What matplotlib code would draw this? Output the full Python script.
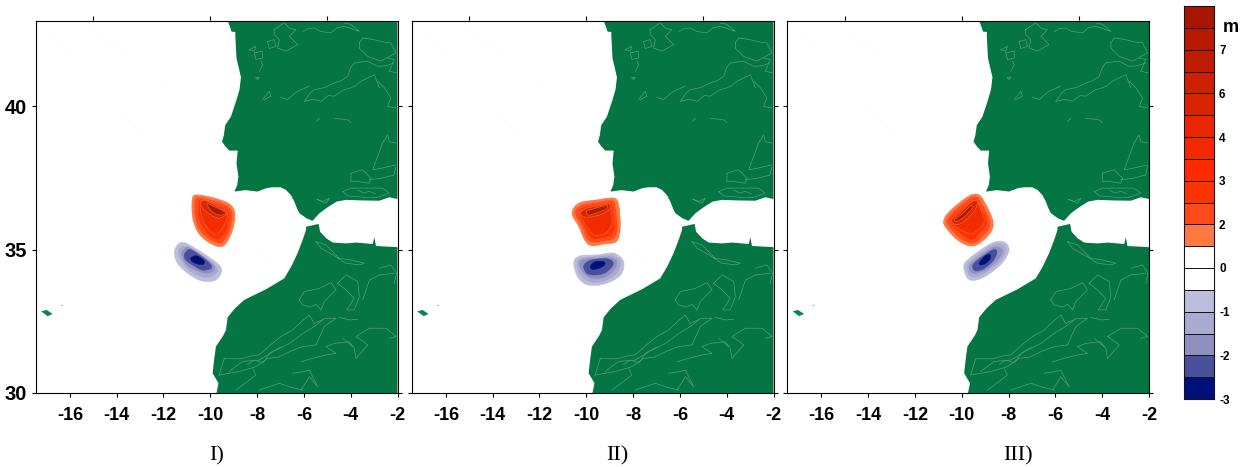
import matplotlib

matplotlib.use('Agg')

import numpy as np
import matplotlib.pyplot as plt
from matplotlib.colors import ListedColormap
from matplotlib.patches import PathPatch
from matplotlib.path import Path

plt.rcParams['axes.unicode_minus'] = False

# lon/lat ranges and ticks
lon_ticks = [-16, -14, -12, -10, -8, -6, -4, -2]
lon_top_ticks = [-15, -10, -5]
lat_ticks = [30, 35, 40]
panel_names = ['I)', 'II)', 'III)']

# colour scale, bottom cell first
scale_colors = ['#00107a', '#4a4f9c', '#8f90c0', '#a9aacf', '#bdbedb', '#ffffff', '#ffffff',
                '#ff7a40', '#ff4a1c', '#ff3300', '#ff2a00', '#f22800', '#ea2600', '#d82400',
                '#cc2000', '#c01c00', '#b81a00', '#a81500']
scale_labels = ['-3', '-2', '-1', '0', '2', '3', '4', '6', '7']
scale_label_cells = [0, 2, 4, 6, 8, 10, 12, 14, 16]

iberia = [(-9.30, 43.1), (-9.09, 42.61), (-8.93, 42.6), (-8.93, 42.44), (-8.88, 41.68), (-8.69, 41.02),
          (-8.75, 40.6), (-8.88, 40.23), (-9.12, 39.64), (-9.36, 39.35), (-9.42, 39.0), (-9.5, 38.77),
          (-9.35, 38.6), (-9.19, 38.46), (-8.83, 38.46), (-8.88, 38.02), (-8.8, 37.55), (-8.85, 37.25),
          (-8.97, 37.03), (-8.5, 37.08), (-7.98, 37.03), (-7.6, 37.15), (-7.34, 37.18), (-7.0, 37.18),
          (-6.77, 37.09), (-6.55, 36.9), (-6.41, 36.68), (-6.3, 36.45), (-6.2, 36.28), (-5.9, 36.1),
          (-5.63, 36.01), (-5.34, 36.27), (-4.99, 36.48), (-4.6, 36.68), (-4.2, 36.74), (-3.5, 36.72),
          (-2.78, 36.71), (-2.35, 36.83), (-2.0, 36.77), (-2.0, 43.1)]
africa = [(-5.91, 35.80), (-5.37, 35.9), (-5.31, 35.63), (-5.05, 35.4), (-4.77, 35.25), (-4.2, 35.22),
          (-3.77, 35.25), (-3.06, 35.2), (-2.99, 35.43), (-2.92, 35.13), (-2.0, 35.09), (-2.0, 29.9),
          (-9.76, 29.9), (-9.65, 30.34), (-9.9, 30.69), (-9.83, 31.2), (-9.76, 31.62), (-9.45, 32.0),
          (-9.33, 32.2), (-9.26, 32.64), (-8.95, 32.95), (-8.55, 33.25), (-7.62, 33.62), (-6.84, 34.0),
          (-6.55, 34.4), (-6.27, 34.88), (-6.05, 35.35), (-5.91, 35.69)]
madeira = [(-17.23, 32.85), (-17.0, 32.9), (-16.74, 32.76), (-16.95, 32.68)]
porto_santo = [(-16.38, 33.06), (-16.32, 33.08), (-16.32, 33.04)]
sea_traces = [[(-16.88, 42.55), (-15.6, 41.4), (-14.1, 40.1), (-12.75, 38.83)],
              [(-15.2, 42.7), (-13.6, 41.9), (-11.8, 40.6)],
              [(-8.2, 35.2), (-7.3, 34.5)]]

relief = [
    [(-6.05, 42.62), (-5.8, 42.72), (-5.56, 42.74), (-5.3, 42.62), (-4.84, 42.57), (-4.6, 42.74), (-4.27, 42.8), (-3.63, 42.62), (-3.98, 42.86), (-4.27, 42.92)],
    [(-7.27, 42.68), (-6.84, 42.92), (-6.6, 42.72), (-6.34, 42.68), (-6.62, 42.45), (-6.27, 42.16), (-6.77, 41.93), (-7.12, 42.04), (-7.05, 42.33), (-7.27, 42.51), (-7.27, 42.68)],
    [(-7.55, 42.27), (-7.27, 42.33), (-7.19, 42.1), (-7.48, 42.02), (-7.55, 42.27)],
    [(-8.33, 41.98), (-8.05, 42.1), (-8.12, 41.93), (-8.33, 41.98)],
    [(-8.12, 41.87), (-7.76, 41.93), (-7.76, 41.69), (-8.05, 41.64), (-8.12, 41.87)],
    [(-7.9, 41.23), (-7.76, 41.46), (-7.83, 41.58)],
    [(-8.05, 41.0), (-7.9, 41.02), (-7.98, 40.94), (-8.05, 41.0)],
    [(-7.76, 40.24), (-7.48, 40.53), (-7.41, 40.36), (-7.69, 40.24)],
    [(-6.98, 40.32), (-6.69, 40.24), (-6.45, 40.42), (-6.27, 40.53), (-5.77, 40.71)],
    [(-5.98, 40.18), (-5.75, 40.45), (-5.56, 40.59), (-5.1, 40.66), (-4.7, 40.82), (-4.4, 40.9), (-4.13, 41.05), (-4.0, 41.35), (-3.85, 41.52), (-3.28, 41.58), (-2.85, 41.4), (-2.5, 41.42), (-2.14, 41.52)],
    [(-5.98, 40.18), (-5.6, 40.25), (-5.27, 40.18), (-4.95, 40.38), (-4.7, 40.36), (-4.3, 40.58), (-3.99, 40.65), (-3.8, 40.72), (-3.56, 40.88), (-2.99, 41.11), (-2.78, 40.65)],
    [(-3.63, 42.22), (-3.49, 42.39), (-2.99, 42.33), (-2.6, 42.25), (-2.28, 42.22), (-2.07, 41.87), (-2.71, 41.58), (-3.28, 41.75), (-3.63, 42.04), (-3.63, 42.22)],
    [(-2.42, 41.69), (-2.14, 41.64), (-2.35, 41.23), (-2.04, 41.17)],
    [(-2.85, 40.88), (-2.56, 40.65), (-2.28, 40.3), (-2.42, 40.0), (-2.07, 39.95)],
    [(-4.7, 39.59), (-4.13, 39.53), (-3.99, 39.44)],
    [(-5.48, 39.47), (-5.34, 39.59)],
    [(-2.64, 38.72), (-2.42, 39.01), (-2.35, 38.77), (-2.07, 38.72)],
    [(-2.64, 38.72), (-3.06, 37.79), (-2.71, 37.84), (-2.07, 37.96)],
    [(-3.99, 37.67), (-3.49, 37.79), (-3.13, 37.49), (-3.21, 37.32), (-3.7, 37.38), (-3.99, 37.38), (-3.99, 37.67)],
    [(-4.34, 37.03), (-3.99, 37.15), (-3.28, 37.15), (-2.64, 37.15), (-2.35, 36.97), (-2.85, 36.83), (-3.42, 36.83), (-4.13, 36.88), (-4.34, 37.03)],
    [(-3.7, 37.08), (-3.45, 36.98), (-3.2, 37.04), (-2.95, 36.95)],
    [(-3.21, 37.44), (-2.71, 37.49), (-2.14, 37.61), (-2.07, 37.9)],
    [(-5.44, 36.76), (-5.2, 36.68), (-4.91, 36.8), (-5.06, 36.62), (-5.44, 36.76)],
    [(-5.48, 35.28), (-5.06, 35.17), (-4.49, 34.7), (-3.99, 34.64), (-3.42, 34.53), (-3.63, 34.47), (-4.2, 34.53), (-4.77, 34.82), (-5.27, 35.05), (-5.48, 35.28)],
    [(-6.2, 33.25), (-5.98, 33.54), (-5.34, 33.65), (-4.84, 33.85), (-4.63, 33.6), (-5.13, 33.19), (-5.27, 32.9), (-5.48, 33.1), (-5.7, 33.0), (-6.05, 33.07), (-6.2, 33.25)],
    [(-4.56, 33.83), (-4.2, 34.12), (-3.7, 33.89), (-3.63, 33.36), (-3.85, 32.9), (-4.17, 32.9), (-3.85, 33.3), (-4.2, 33.6), (-4.56, 33.83)],
    [(-3.49, 33.25), (-3.2, 33.94), (-2.78, 34.12), (-2.14, 34.18)],
    [(-2.78, 34.35), (-2.28, 34.47), (-2.04, 34.18), (-2.14, 33.83)],
    [(-9.62, 30.63), (-9.4, 31.21), (-8.62, 31.21), (-8.2, 31.3), (-7.91, 31.33), (-7.4, 31.7), (-6.98, 31.97), (-6.48, 32.2), (-6.1, 32.5), (-5.77, 32.72), (-5.56, 32.43), (-5.1, 32.6), (-4.63, 32.61), (-5.13, 32.32), (-5.48, 31.68), (-6.05, 31.62), (-6.62, 31.44), (-7.1, 31.25), (-7.55, 31.21), (-8.05, 30.92), (-8.76, 30.75), (-9.62, 30.63)],
    [(-4.49, 32.64), (-4.06, 32.55), (-3.7, 32.57)],
    [(-9.19, 30.75), (-8.62, 31.1), (-7.91, 31.15), (-7.2, 31.5), (-6.62, 31.73), (-6.05, 32.08), (-5.6, 32.3), (-5.2, 32.55)],
    [(-8.4, 31.0), (-8.1, 31.15), (-7.75, 31.05), (-7.45, 31.4), (-7.0, 31.6)],
    [(-5.06, 31.62), (-4.7, 31.73), (-4.06, 31.79), (-3.85, 31.56), (-3.77, 31.2)],
    [(-4.34, 31.91), (-3.92, 31.62)],
    [(-3.77, 31.97), (-3.2, 32.26), (-2.49, 32.26), (-2.06, 31.97), (-2.35, 31.91)],
    [(-3.77, 31.97), (-3.27, 31.68), (-3.77, 31.21)],
    [(-6.12, 31.09), (-5.63, 31.21), (-5.06, 31.33), (-4.63, 31.38), (-5.06, 31.62)],
    [(-6.48, 30.69), (-5.98, 30.75), (-5.77, 30.8), (-5.41, 30.22), (-5.77, 30.57), (-6.12, 30.1)],
    [(-8.9, 30.1), (-8.05, 30.63), (-8.19, 30.86)],
    [(-7.91, 30.1), (-7.05, 30.34), (-6.62, 30.22), (-6.05, 30.1)],
]

# wave height patches, outermost contour first
red_colors = ['#ff7a40', '#ff4a1c', '#ff3300', '#f02c00', '#dd2600', '#a81d00']
blue_colors = ['#bdbedb', '#a9aacf', '#8f90c0', '#4a4f9c', '#00107a']

red_1 = [
    [(-10.76, 36.8), (-10.54, 36.91), (-9.83, 36.8), (-9.19, 36.6), (-8.95, 36.27), (-9.05, 35.69), (-9.33, 35.22), (-9.62, 35.11), (-10.11, 35.28), (-10.54, 35.63), (-10.76, 36.16)],
    [(-10.66, 36.74), (-10.47, 36.83), (-9.83, 36.71), (-9.26, 36.53), (-9.05, 36.25), (-9.15, 35.71), (-9.4, 35.32), (-9.62, 35.22), (-10.04, 35.36), (-10.47, 35.71), (-10.66, 36.18)],
    [(-10.54, 36.68), (-10.37, 36.77), (-9.83, 36.64), (-9.33, 36.47), (-9.16, 36.21), (-9.26, 35.75), (-9.52, 35.4), (-9.69, 35.34), (-10.04, 35.46), (-10.37, 35.81), (-10.54, 36.21)],
    [(-10.43, 36.66), (-10.26, 36.74), (-9.83, 36.59), (-9.43, 36.45), (-9.26, 36.21), (-9.4, 35.86), (-9.69, 35.57), (-9.97, 35.63), (-10.26, 35.92), (-10.4, 36.27)],
    [(-10.4, 36.68), (-10.19, 36.71), (-9.83, 36.56), (-9.47, 36.41), (-9.29, 36.25), (-9.62, 36.1), (-9.97, 36.21), (-10.29, 36.41)],
    [(-10.14, 36.6), (-9.9, 36.53), (-9.54, 36.39), (-9.33, 36.27), (-9.62, 36.21), (-9.97, 36.36)],
]
blue_1 = [
    [(-11.54, 34.9), (-11.4, 35.17), (-11.11, 35.25), (-10.4, 34.93), (-9.62, 34.47), (-9.54, 34.18), (-9.83, 33.92), (-10.4, 33.92), (-10.97, 34.18), (-11.4, 34.53)],
    [(-11.37, 34.93), (-11.11, 35.13), (-10.47, 34.87), (-9.8, 34.47), (-9.71, 34.24), (-9.97, 34.06), (-10.47, 34.08), (-10.94, 34.32), (-11.25, 34.64)],
    [(-11.22, 34.88), (-10.97, 35.09), (-10.47, 34.85), (-9.9, 34.5), (-9.83, 34.29), (-10.14, 34.18), (-10.61, 34.29), (-11.04, 34.5)],
    [(-11.11, 34.82), (-10.9, 35.01), (-10.47, 34.82), (-10.0, 34.5), (-9.97, 34.35), (-10.33, 34.29), (-10.76, 34.47), (-11.04, 34.64)],
    [(-10.83, 34.7), (-10.61, 34.79), (-10.29, 34.64), (-10.29, 34.5), (-10.54, 34.5), (-10.75, 34.58)],
]
red_2 = [
    [(-10.61, 36.27), (-10.32, 36.62), (-9.54, 36.74), (-8.82, 36.8), (-8.62, 36.56), (-8.55, 35.81), (-8.7, 35.3), (-9.25, 35.2), (-9.75, 35.14), (-10.04, 35.3), (-10.32, 35.81)],
    [(-10.49, 36.27), (-10.25, 36.54), (-9.54, 36.66), (-8.9, 36.71), (-8.75, 36.53), (-8.67, 35.81), (-8.8, 35.4), (-9.25, 35.3), (-9.71, 35.25), (-9.97, 35.38), (-10.22, 35.84)],
    [(-10.36, 36.25), (-10.18, 36.47), (-9.54, 36.59), (-8.97, 36.64), (-8.85, 36.48), (-8.78, 35.83), (-8.93, 35.48), (-9.28, 35.4), (-9.68, 35.34), (-9.89, 35.47), (-10.14, 35.86)],
    [(-10.28, 36.25), (-10.11, 36.41), (-9.54, 36.53), (-9.04, 36.6), (-8.94, 36.39), (-8.9, 35.92), (-9.14, 35.6), (-9.61, 35.5), (-9.89, 35.68), (-10.11, 35.98)],
    [(-10.25, 36.29), (-9.97, 36.45), (-9.39, 36.54), (-9.04, 36.6), (-8.97, 36.45), (-9.32, 36.25), (-9.75, 36.15), (-10.11, 36.15)],
    [(-9.99, 36.33), (-9.61, 36.45), (-9.11, 36.54), (-9.18, 36.41), (-9.54, 36.29), (-9.89, 36.21)],
]
blue_2 = [
    [(-10.53, 34.58), (-10.25, 34.79), (-9.54, 34.82), (-8.82, 34.88), (-8.4, 34.58), (-8.55, 34.1), (-9.25, 33.8), (-9.97, 33.78), (-10.39, 34.08)],
    [(-10.39, 34.58), (-10.11, 34.72), (-9.54, 34.76), (-8.9, 34.79), (-8.55, 34.58), (-8.7, 34.18), (-9.28, 33.9), (-9.89, 33.9), (-10.28, 34.18)],
    [(-10.28, 34.55), (-10.04, 34.67), (-9.54, 34.7), (-8.99, 34.72), (-8.7, 34.58), (-8.85, 34.25), (-9.32, 34.02), (-9.82, 34.02), (-10.18, 34.28)],
    [(-10.11, 34.43), (-9.89, 34.61), (-9.47, 34.68), (-9.04, 34.67), (-8.85, 34.5), (-9.18, 34.2), (-9.61, 34.12), (-9.97, 34.17)],
    [(-9.82, 34.43), (-9.61, 34.58), (-9.25, 34.58), (-9.22, 34.47), (-9.47, 34.35), (-9.75, 34.32)],
]
red_3 = [
    [(-10.78, 35.98), (-10.53, 36.33), (-9.75, 36.85), (-9.32, 36.93), (-9.04, 36.68), (-8.68, 36.04), (-8.75, 35.63), (-9.25, 35.22), (-9.68, 35.14), (-10.18, 35.34), (-10.6, 35.69)],
    [(-10.66, 35.98), (-10.43, 36.29), (-9.72, 36.77), (-9.35, 36.85), (-9.14, 36.62), (-8.81, 36.04), (-8.87, 35.69), (-9.32, 35.3), (-9.68, 35.24), (-10.11, 35.42), (-10.5, 35.75)],
    [(-10.55, 36.0), (-10.35, 36.25), (-9.68, 36.7), (-9.4, 36.77), (-9.22, 36.56), (-8.92, 36.04), (-9.01, 35.75), (-9.4, 35.4), (-9.68, 35.34), (-10.03, 35.51), (-10.39, 35.8)],
    [(-10.46, 36.0), (-10.25, 36.24), (-9.64, 36.65), (-9.4, 36.7), (-9.25, 36.5), (-9.04, 36.04), (-9.18, 35.8), (-9.54, 35.57), (-9.89, 35.63), (-10.25, 35.8)],
    [(-10.43, 36.04), (-10.11, 36.27), (-9.61, 36.65), (-9.35, 36.7), (-9.4, 36.45), (-9.68, 36.15), (-10.03, 35.92), (-10.32, 35.89)],
    [(-10.32, 36.04), (-9.96, 36.27), (-9.61, 36.54), (-9.58, 36.42), (-9.89, 36.15), (-10.18, 36.0)],
]
blue_3 = [
    [(-9.92, 34.41), (-9.68, 34.7), (-8.75, 35.22), (-8.2, 35.28), (-7.98, 34.99), (-8.28, 34.53), (-8.9, 34.12), (-9.4, 33.94), (-9.75, 34.0)],
    [(-9.79, 34.41), (-9.58, 34.64), (-8.75, 35.14), (-8.3, 35.19), (-8.12, 34.97), (-8.4, 34.56), (-8.97, 34.21), (-9.4, 34.06), (-9.68, 34.12)],
    [(-9.68, 34.41), (-9.47, 34.61), (-8.72, 35.05), (-8.4, 35.08), (-8.26, 34.93), (-8.54, 34.58), (-9.01, 34.29), (-9.4, 34.18), (-9.61, 34.23)],
    [(-9.54, 34.43), (-9.32, 34.64), (-8.68, 34.99), (-8.5, 34.93), (-8.64, 34.64), (-9.04, 34.35), (-9.4, 34.26)],
    [(-9.25, 34.53), (-9.04, 34.76), (-8.82, 34.84), (-8.78, 34.7), (-8.97, 34.53), (-9.18, 34.47)],
]
panel_red = [red_1, red_2, red_3]
panel_blue = [blue_1, blue_2, blue_3]

LAND = '#047543'
W, H = 1245, 467
panel_lefts = [35.5, 411.5, 787.0]
label_x = [217, 617, 1018]


def smooth_patch(points, color, edge):
    # closed catmull-rom through the read points so the contours look round
    pts = np.array(points)
    n = len(pts)
    verts = [pts[0]]
    codes = [Path.MOVETO]
    for i in range(n):
        p0, p1, p2, p3 = pts[i - 1], pts[i], pts[(i + 1) % n], pts[(i + 2) % n]
        verts += [p1 + (p2 - p0) / 6, p2 - (p3 - p1) / 6, p2]
        codes += [Path.CURVE4] * 3
    return PathPatch(Path(verts, codes), facecolor=color, edgecolor=edge, linewidth=0.4, zorder=3)


fig = plt.figure(figsize=(W / 100, H / 100), dpi=100)

for i, left in enumerate(panel_lefts):
    ax = fig.add_axes([left / W, (H - 393) / H, 362 / W, 372.5 / H])
    ax.set_xlim(-17.47, -2)
    ax.set_ylim(30, 43)

    for shape in [iberia, africa, porto_santo]:
        xy = np.array(shape)
        ax.fill(xy[:, 0], xy[:, 1], color=LAND, lw=0, zorder=1)
    xy = np.array(madeira)
    ax.fill(xy[:, 0], xy[:, 1], color='#0a8453', lw=0, zorder=1)

    for line in sea_traces:
        xy = np.array(line)
        ax.plot(xy[:, 0], xy[:, 1], color='#f5f5f5', lw=0.5, ls=':', zorder=1)
    for line in relief:
        xy = np.array(line)
        ax.plot(xy[:, 0], xy[:, 1], color='#4f9f78', lw=0.5, zorder=2)

    for points, color in zip(panel_red[i], red_colors):
        ax.add_patch(smooth_patch(points, color, '#ff6a3c'))
    for points, color in zip(panel_blue[i], blue_colors):
        ax.add_patch(smooth_patch(points, color, color))

    ax.set_xticks(lon_ticks)
    ax.set_yticks(lat_ticks)
    ax.tick_params(axis='both', length=3, width=0.8, right=True)
    ax.tick_params(axis='x', labelsize=13, pad=7)
    ax.tick_params(axis='y', labelsize=14.5, pad=3)
    for lab in ax.get_xticklabels() + ax.get_yticklabels():
        lab.set_fontfamily('Liberation Sans')
        lab.set_fontweight('bold')
    if i > 0:
        ax.set_yticklabels([])
    top = ax.secondary_xaxis('top')
    top.set_xticks(lon_top_ticks)
    top.set_xticklabels([])
    top.tick_params(length=3, width=0.8)
    top.spines['top'].set_visible(False)

    fig.text(label_x[i] / W, 1 - 456 / H, panel_names[i], family='Liberation Serif',
             fontsize=16, ha='center', va='center')

# colour scale
cax = fig.add_axes([1184 / W, (H - 399) / H, 29.5 / W, 393 / H])
cells = np.arange(len(scale_colors) + 1)
values = np.arange(len(scale_colors)).reshape(-1, 1)
cax.pcolormesh([0, 1], cells, values, cmap=ListedColormap(scale_colors),
               vmin=-0.5, vmax=len(scale_colors) - 0.5, edgecolors='#151515', linewidth=0.7)
cax.set_xticks([])
cax.yaxis.tick_right()
cax.set_yticks(scale_label_cells)
cax.set_yticklabels(scale_labels, family='Liberation Sans', fontweight='bold', fontsize=8.5)
cax.tick_params(axis='y', length=0, pad=4)
for s in cax.spines.values():
    s.set_linewidth(0.8)
    s.set_color('#151515')
cax.text(1.32, 17, 'm', family='Liberation Sans', fontweight='bold', fontsize=13, va='center', ha='left',
         transform=cax.get_yaxis_transform())

fig.savefig('out.png', dpi=100)
